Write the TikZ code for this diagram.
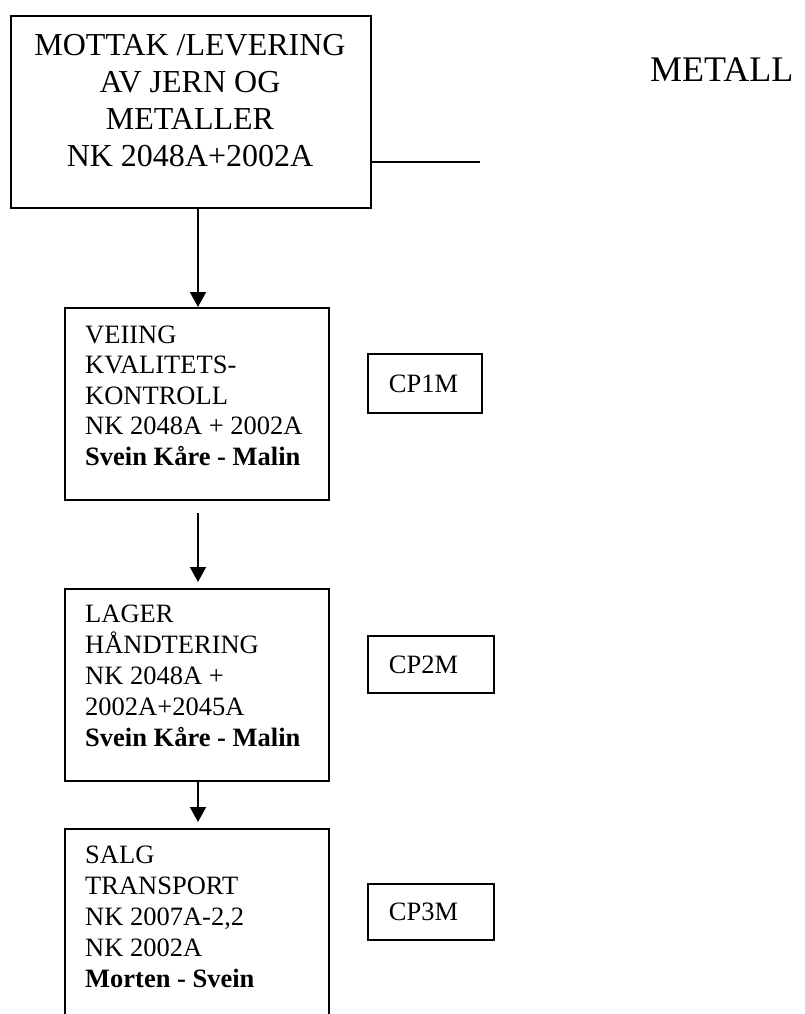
\documentclass[tikz,border=0pt]{standalone}
\usepackage{fontspec}
\setmainfont{Liberation Serif}
\usetikzlibrary{arrows.meta}
\begin{document}
\begin{tikzpicture}[x=1pt,y=-1pt,
  box/.style={draw,line width=1.8pt,inner sep=0pt,anchor=north west},
  txt/.style={inner sep=0pt,anchor=base west},
  cp/.style={draw,line width=1.8pt,anchor=north west,inner ysep=0pt,inner xsep=21pt,align=left,font=\fontsize{26.5}{30.5}\selectfont},
  arr/.style={line width=1.8pt,-{Triangle[length=15pt,width=16pt]}}]
\useasboundingbox (0,0) rectangle (804,1014);
\clip (0,0) rectangle (804,1014);
% top box
\node[box,minimum width=360pt,minimum height=192pt] (top) at (10,15) {};
\node[inner sep=0pt,anchor=base,font=\fontsize{32}{37}\selectfont] (topt) at (190,56)
  {\begin{tabular}[t]{@{}c@{}}MOTTAK /LEVERING\\AV JERN OG\\METALLER\\NK 2048A+2002A\end{tabular}};
\coordinate (lend) at (480,162);
\draw[line width=1.8pt] (top.east |- lend) -- (lend);
\node[inner sep=0pt,anchor=base west,font=\fontsize{36}{40}\selectfont] (title) at (650,82) {METALL};
% box 2
\node[box,minimum width=264pt,minimum height=192pt] (b2) at (64,307) {};
\node[txt,font=\fontsize{26.5}{30.5}\selectfont] (b2t) at (85,343)
  {\begin{tabular}[t]{@{}l@{}}VEIING\\KVALITETS-\\KONTROLL\\NK 2048A + 2002A\\\textbf{Svein Kåre - Malin}\end{tabular}};
\node[cp,minimum height=59pt,text width=72pt] (cp1) at (367,353) {CP1M};
% box 3
\node[box,minimum width=264pt,minimum height=192pt] (b3) at (64,588) {};
\node[txt,font=\fontsize{26.5}{31.2}\selectfont] (b3t) at (85,622)
  {\begin{tabular}[t]{@{}l@{}}LAGER\\HÅNDTERING\\NK 2048A +\\2002A+2045A\\\textbf{Svein Kåre - Malin}\end{tabular}};
\node[cp,minimum height=57pt,text width=84pt] (cp2) at (367,635) {CP2M};
% box 4
\node[box,minimum width=264pt,minimum height=230pt] (b4) at (64,828) {};
\node[txt,font=\fontsize{26.5}{31}\selectfont] (b4t) at (85,863)
  {\begin{tabular}[t]{@{}l@{}}SALG\\TRANSPORT\\NK 2007A-2,2\\NK 2002A\\\textbf{Morten - Svein}\end{tabular}};
\node[cp,minimum height=56pt,text width=84pt] (cp3) at (367,883) {CP3M};
% arrows
\coordinate (ax) at (198,0);
\draw[arr] (top.south -| ax) -- (b2.north -| ax);
\draw[arr,shorten <=12pt,shorten >=6pt] (b2.south -| ax) -- (b3.north -| ax);
\draw[arr,shorten >=6pt] (b3.south -| ax) -- (b4.north -| ax);
\end{tikzpicture}
\end{document}
